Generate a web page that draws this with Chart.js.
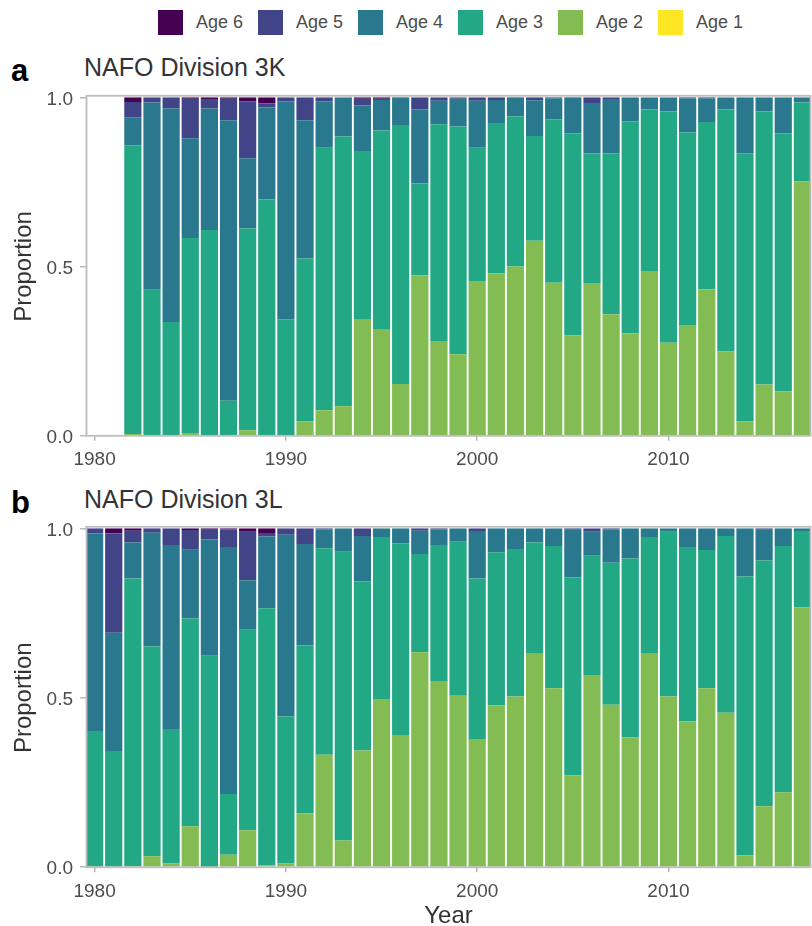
<!DOCTYPE html>
<html>
<head>
<meta charset="utf-8">
<script src="https://cdn.jsdelivr.net/npm/chart.js@4.4.0/dist/chart.umd.min.js"></script>
<style>
html,body{margin:0;padding:0;background:#fff;width:812px;height:926px;overflow:hidden;font-family:"Liberation Sans",Arial,sans-serif;}
.abs{position:absolute;}
#legend{position:absolute;left:158px;top:10px;height:25px;display:flex;}
.item{display:flex;align-items:center;width:100px;height:25px;}
.sw{width:25px;height:25px;margin-right:13px;flex:none;}
.lt{font-size:18px;color:#4d4d4d;white-space:nowrap;}
.ttl{position:absolute;font-size:25px;line-height:25px;color:#333;white-space:nowrap;}
.tag{position:absolute;font-size:31px;line-height:31px;font-weight:bold;color:#000;}
canvas{display:block;}
</style>
</head>
<body>
<div id="legend"></div>
<div class="tag" style="left:11px;top:55px">a</div>
<div class="ttl" style="left:84px;top:55px">NAFO Division 3K</div>
<div class="tag" style="left:11px;top:487px">b</div>
<div class="ttl" style="left:84px;top:487px">NAFO Division 3L</div>
<div class="abs" style="left:0;top:40px;"><canvas id="c1" width="812" height="440"></canvas></div>
<div class="abs" style="left:0;top:471px;"><canvas id="c2" width="812" height="455"></canvas></div>
<script>
// ---- Data ----
const ageNames = ["Age 1", "Age 2", "Age 3", "Age 4", "Age 5", "Age 6"];
const ageColors = ["#FDE725", "#82BC52", "#22A884", "#2A788E", "#414487", "#440154"];

// NAFO Division 3K (1982-2017)
const yearsK = [1982,1983,1984,1985,1986,1987,1988,1989,1990,1991,1992,1993,1994,1995,1996,1997,1998,1999,
                2000,2001,2002,2003,2004,2005,2006,2007,2008,2009,2010,2011,2012,2013,2014,2015,2016,2017];
const k_age1 = [0,0,0,0,0,0,0,0,0,0,0,0,0,0,0,0,0,0,0,0,0,0,0,0,0,0,0,0,0,0,0,0,0,0,0,0];
const k_age2 = [0.005,0,0,0.008,0,0,0.016,0,0,0.042,0.075,0.087,0.343,0.313,0.153,0.474,0.280,0.241,
                0.457,0.479,0.500,0.576,0.452,0.297,0.451,0.359,0.303,0.487,0.275,0.327,0.433,0.249,0.042,0.151,0.131,0.751];
const k_age3 = [0.853,0.431,0.336,0.576,0.608,0.103,0.596,0.698,0.344,0.482,0.776,0.797,0.498,0.589,0.765,0.271,0.640,0.673,
                0.394,0.445,0.443,0.310,0.483,0.596,0.383,0.475,0.626,0.477,0.683,0.569,0.494,0.715,0.793,0.807,0.762,0.234];
const k_age4 = [0.083,0.554,0.631,0.295,0.359,0.829,0.208,0.272,0.644,0.408,0.137,0.116,0.135,0.090,0.080,0.219,0.070,0.082,
                0.139,0.068,0.055,0.105,0.062,0.105,0.149,0.161,0.071,0.036,0.042,0.101,0.070,0.036,0.165,0.042,0.107,0.015];
const k_age5 = [0.045,0.015,0.033,0.117,0.026,0.064,0.168,0.012,0.012,0.068,0.012,0,0.020,0.004,0.002,0.036,0.010,0.004,
                0.010,0.008,0.002,0.009,0.003,0.002,0.017,0.005,0,0,0,0.003,0.003,0,0,0,0,0];
const k_age6 = [0.014,0,0,0.004,0.007,0.004,0.012,0.018,0,0,0,0,0.004,0.004,0,0,0,0,
                0,0,0,0,0,0,0,0,0,0,0,0,0,0,0,0,0,0];

// NAFO Division 3L (1980-2017)
const yearsL = [1980,1981,1982,1983,1984,1985,1986,1987,1988,1989,1990,1991,1992,1993,1994,1995,1996,1997,1998,1999,
                2000,2001,2002,2003,2004,2005,2006,2007,2008,2009,2010,2011,2012,2013,2014,2015,2016,2017];
const l_age1 = [0,0,0,0,0,0,0,0,0,0,0,0,0,0,0,0,0,0,0,0,0,0,0,0,0,0,0,0,0,0,0,0,0,0,0,0,0,0];
const l_age2 = [0.002,0,0.003,0.032,0.012,0.121,0.001,0.037,0.109,0.005,0.011,0.159,0.332,0.079,0.344,0.496,0.388,0.634,0.547,0.506,
                0.378,0.477,0.504,0.630,0.528,0.271,0.567,0.479,0.383,0.630,0.504,0.430,0.528,0.456,0.035,0.180,0.221,0.767];
const l_age3 = [0.400,0.343,0.849,0.619,0.396,0.613,0.623,0.179,0.592,0.759,0.434,0.495,0.609,0.852,0.499,0.478,0.568,0.290,0.404,0.454,
                0.474,0.452,0.435,0.328,0.420,0.584,0.352,0.419,0.528,0.344,0.486,0.515,0.408,0.521,0.823,0.725,0.727,0.225];
const l_age4 = [0.583,0.349,0.106,0.336,0.543,0.203,0.343,0.729,0.146,0.212,0.536,0.300,0.056,0.069,0.134,0.026,0.044,0.069,0.046,0.040,
                0.140,0.071,0.061,0.042,0.052,0.141,0.071,0.099,0.089,0.026,0.010,0.055,0.064,0.023,0.142,0.091,0.052,0.008];
const l_age5 = [0.015,0.293,0.035,0.013,0.049,0.058,0.029,0.052,0.143,0.010,0.019,0.046,0.003,0,0.023,0,0,0.007,0.003,0,
                0.008,0,0,0,0,0.004,0.010,0.003,0,0,0,0,0,0,0,0.004,0,0];
const l_age6 = [0,0.015,0.007,0,0,0.005,0.004,0.003,0.010,0.014,0,0,0,0,0,0,0,0,0,0,
                0,0,0,0,0,0,0,0,0,0,0,0,0,0,0,0,0,0];

const yTickStep = 0.5;
const xTickStep = 10;

// ---- Legend (HTML, built from the series names/colours) ----
const legend = document.getElementById('legend');
for (let i = ageNames.length - 1; i >= 0; i--) {
  const it = document.createElement('div'); it.className = 'item';
  const sw = document.createElement('div'); sw.className = 'sw'; sw.style.background = ageColors[i];
  const lt = document.createElement('span'); lt.className = 'lt'; lt.textContent = ageNames[i];
  it.appendChild(sw); it.appendChild(lt); legend.appendChild(it);
}

// ---- Charts ----
const FONT = '"Liberation Sans", Arial, sans-serif';
const frame = {
  id: 'frame',
  afterDatasetsDraw(chart) {
    const a = chart.chartArea, ctx = chart.ctx;
    ctx.save();
    ctx.strokeStyle = '#bdbdbd';
    ctx.lineWidth = 1.8;
    const l = a.left + 0.5, t = a.top - 1.5, r = a.right - 0.5, b = a.bottom + 0.1;
    ctx.strokeRect(l, t, r - l, b - t);
    ctx.restore();
  }
};

function makeChart(id, years, series, xTitle, xAxisH) {
  new Chart(document.getElementById(id), {
    type: 'bar',
    data: {
      labels: years,
      datasets: ageNames.map((n, i) => ({
        label: n, data: series[i], backgroundColor: ageColors[i],
        borderWidth: 0, barPercentage: 0.9, categoryPercentage: 1.0
      }))
    },
    options: {
      responsive: false, animation: false, devicePixelRatio: 1, events: [],
      layout: { padding: { top: 57.3, left: 0, right: 1, bottom: 0 } },
      plugins: { legend: { display: false }, tooltip: { enabled: false } },
      scales: {
        x: {
          type: 'linear', min: 1979.55, max: 2017.45, stacked: true, offset: false,
          grid: { display: true, offset: false, drawOnChartArea: false, drawTicks: true, tickLength: 5, color: '#b8b8b8', lineWidth: 1.5 },
          border: { display: false },
          ticks: { stepSize: xTickStep, includeBounds: false, autoSkip: false, maxRotation: 0, padding: 8,
                   color: '#4d4d4d', font: { family: FONT, size: 19 }, callback: v => String(v) },
          title: { display: !!xTitle, text: xTitle || '', color: '#333', font: { family: FONT, size: 24, lineHeight: 1 },
                   padding: { top: 0, bottom: -2 } },
          afterFit: s => { s.height = xAxisH; }
        },
        y: {
          type: 'linear', min: 0, max: 1, stacked: true,
          grid: { display: true, drawOnChartArea: false, drawTicks: true, tickLength: 6, color: '#b8b8b8', lineWidth: 1.5 },
          border: { display: false },
          ticks: { stepSize: yTickStep, padding: 7, labelOffset: 2, color: '#4d4d4d', font: { family: FONT, size: 19 },
                   callback: v => Number(v).toFixed(1) },
          title: { display: true, text: 'Proportion', color: '#333', font: { family: FONT, size: 24 },
                   padding: { top: 10, bottom: 0 } },
          afterFit: s => { s.width = 86; }
        }
      }
    },
    plugins: [frame]
  });
}

makeChart('c1', yearsK, [k_age1, k_age2, k_age3, k_age4, k_age5, k_age6], '', 44.3);
makeChart('c2', yearsL, [l_age1, l_age2, l_age3, l_age4, l_age5, l_age6], 'Year', 58.8);
</script>
</body>
</html>
